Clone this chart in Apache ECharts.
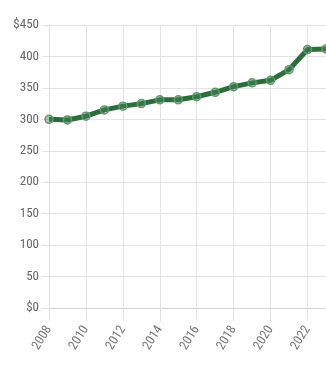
<!DOCTYPE html>
<html><head><meta charset="utf-8">
<script src="https://cdn.jsdelivr.net/npm/echarts@6/dist/echarts.min.js"></script>
<style>html,body{margin:0;padding:0;background:#fff}#c{width:326px;height:370px}</style>
</head><body><div id="c"></div>
<script>
const years = ['2008','2009','2010','2011','2012','2013','2014','2015','2016','2017','2018','2019','2020','2021','2022','2023'];
const values = [300, 299, 305, 315, 321, 325, 331, 331, 336, 343, 352, 358, 362, 379, 411, 412];
const yTicks = [0, 50, 100, 150, 200, 250, 300, 350, 400, 450];

const font = '"Liberation Sans Narrow", "Roboto Condensed", "Liberation Sans", sans-serif';
const chart = echarts.init(document.getElementById('c'));
chart.setOption({
  animation: false,
  grid: { left: 49, right: -10, top: 25, bottom: 62, containLabel: false },
  xAxis: {
    type: 'category', data: years, boundaryGap: false,
    axisLine: { show: true, lineStyle: { color: '#d0d0d0', width: 1 } },
    axisTick: { show: true, interval: 1, length: 13, lineStyle: { color: '#e0e0e0' } },
    splitLine: { show: true, interval: 1, lineStyle: { color: '#e3e3e3' } },
    axisLabel: { interval: 1, rotate: 58, color: '#777', fontSize: 13, fontFamily: font, margin: 19 }
  },
  yAxis: {
    type: 'value', min: yTicks[0], max: yTicks[yTicks.length - 1], interval: 50,
    axisLine: { show: true, lineStyle: { color: '#e0e0e0' } },
    axisTick: { show: true, length: 7, lineStyle: { color: '#e0e0e0' } },
    splitLine: { show: true, lineStyle: { color: '#e3e3e3' } },
    axisLabel: { color: '#666', fontSize: 13, fontFamily: font, margin: 10,
      formatter: v => (v === yTicks[0] || v === yTicks[yTicks.length - 1]) ? '$' + v : String(v) }
  },
  series: [{
    type: 'line', data: values, smooth: false,
    lineStyle: { color: '#2b6e3c', width: 5 },
    symbol: 'circle', symbolSize: 8, showAllSymbol: true,
    itemStyle: { color: 'rgba(70,130,85,0.45)', borderColor: '#5e9a6c', borderWidth: 1.5 }
  }]
});
</script></body></html>
